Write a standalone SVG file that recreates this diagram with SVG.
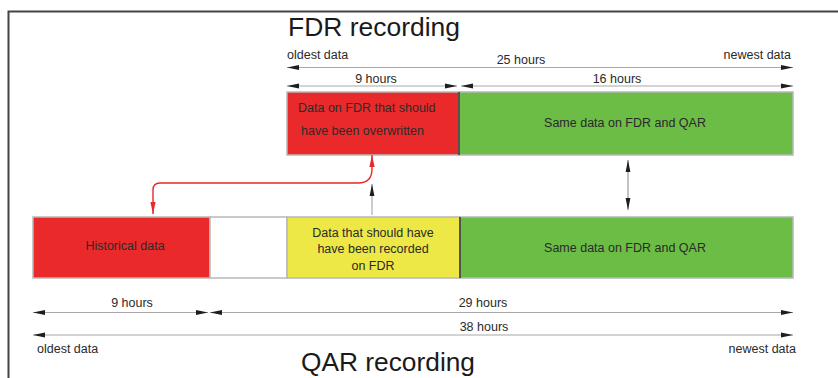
<svg xmlns="http://www.w3.org/2000/svg" width="838" height="378" viewBox="0 0 838 378">
<defs>
<style>
.t{font-family:"Liberation Sans",Arial,sans-serif;fill:#2a2a2a;font-size:12.5px}
.c{text-anchor:middle}
.title{font-family:"Liberation Sans",Arial,sans-serif;fill:#1a1a1a;font-size:26px}
.dim{stroke:#a8a8a8;stroke-width:1.2;fill:none;marker-start:url(#ah);marker-end:url(#ah)}
.bar{stroke:#b8b8b8;stroke-width:1.5}
</style>
<marker id="ah" viewBox="0 0 12 6" refX="12" refY="3" markerWidth="12" markerHeight="6" orient="auto-start-reverse" markerUnits="userSpaceOnUse"><path d="M0,0.6 L12,3 L0,5.4 z" fill="#1e1e1e"/></marker>
<marker id="ahr" viewBox="0 0 12 6" refX="12" refY="3" markerWidth="12" markerHeight="7" orient="auto-start-reverse" markerUnits="userSpaceOnUse"><path d="M0,0.4 L12,3 L0,5.6 z" fill="#e8292a"/></marker>
</defs>
<rect width="838" height="378" fill="#fff"/>
<path d="M8.5,378 V11.5 H838" fill="none" stroke="#444" stroke-width="2"/>

<text class="title" x="288" y="36" textLength="172" lengthAdjust="spacingAndGlyphs">FDR recording</text>
<text class="title" x="301" y="371" textLength="174" lengthAdjust="spacingAndGlyphs">QAR recording</text>

<g id="fdr-red"><rect class="bar" x="287" y="92" width="172" height="63" fill="#ea2a2a"/>
<text class="t" x="298" y="112">Data on FDR that should</text>
<text class="t" x="301" y="135">have been overwritten</text></g>
<g id="fdr-green"><rect class="bar" x="459" y="92" width="334" height="63" fill="#6bbd45"/>
<line x1="459" y1="92" x2="459" y2="155" stroke="#333" stroke-width="1.5"/>
<text class="t c" x="625" y="127">Same data on FDR and QAR</text></g>

<g id="qar-red"><rect class="bar" x="33" y="217" width="177" height="61" fill="#ea2a2a"/>
<text class="t c" x="125" y="250">Historical data</text></g>
<g id="qar-gap"><rect class="bar" x="210" y="217" width="77" height="61" fill="#fff"/></g>
<g id="qar-yellow"><rect class="bar" x="287" y="217" width="173" height="61" fill="#ede846"/>
<text class="t c" x="373" y="237">Data that should have</text>
<text class="t c" x="373" y="253">have been recorded</text>
<text class="t c" x="373" y="270">on FDR</text></g>
<g id="qar-green"><rect class="bar" x="460" y="217" width="333" height="61" fill="#6bbd45"/>
<line x1="460" y1="217" x2="460" y2="278" stroke="#333" stroke-width="1.5"/>
<text class="t c" x="625" y="252">Same data on FDR and QAR</text></g>

<g id="connectors">
<path class="dim" d="M287,67.5 H793"/>
<path class="dim" d="M287,86 H457"/>
<path class="dim" d="M461,86 H793"/>
<path class="dim" d="M33,312.5 H208"/>
<path class="dim" d="M210,312.5 H793"/>
<path class="dim" d="M33,335 H793"/>
<path d="M628,160 V210" stroke="#999" stroke-width="1.2" fill="none" marker-start="url(#ah)" marker-end="url(#ah)"/>
<path d="M372,215 V184" stroke="#aaa" stroke-width="1.2" fill="none" marker-end="url(#ah)"/>
<path d="M153,214 V190 Q153,183 160,183 H358 Q372,183 372,169 V155" stroke="#e8292a" stroke-width="1.4" fill="none" marker-start="url(#ahr)" marker-end="url(#ahr)"/>
</g>

<g id="labels">
<text class="t" x="287" y="59">oldest data</text>
<text class="t" x="791" y="59" text-anchor="end">newest data</text>
<text class="t c" x="521" y="64">25 hours</text>
<text class="t c" x="376" y="83">9 hours</text>
<text class="t c" x="617" y="83">16 hours</text>
<text class="t c" x="132" y="307">9 hours</text>
<text class="t c" x="483" y="307">29 hours</text>
<text class="t c" x="484" y="331">38 hours</text>
<text class="t" x="37" y="353">oldest data</text>
<text class="t" x="796" y="353" text-anchor="end">newest data</text>
</g>
</svg>
